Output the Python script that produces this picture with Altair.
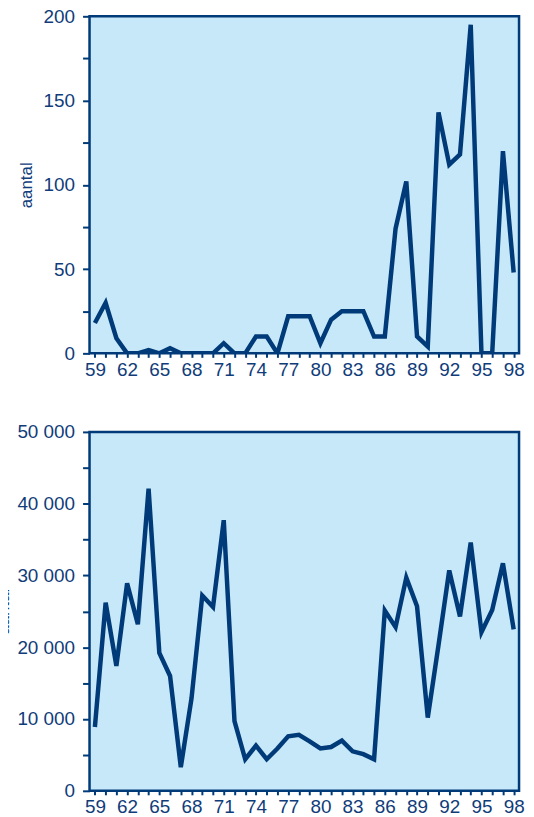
import altair as alt
import pandas as pd

# Years (two-digit labels, 1959-1998)
years = list(range(59, 99))

# Top panel: aantal
top_values = [18, 30, 9, 0, 0, 2, 0, 3, 0, 0,
              0, 0, 6, 0, 0, 10, 10, 0, 22, 22,
              22, 6, 20, 25, 25, 25, 10, 10, 74, 102,
              10, 4, 143, 112, 118, 195, 0, 0, 120, 48]

# Bottom panel: aantal
bottom_values = [8900, 26200, 17400, 28900, 23200, 42100, 19200, 16000, 3300, 12900,
                 27200, 25600, 37700, 9700, 4400, 6300, 4400, 5900, 7600, 7800,
                 6900, 5900, 6100, 7000, 5500, 5100, 4400, 25100, 22800, 29700,
                 25700, 10200, 20300, 30700, 24300, 34600, 22100, 25200, 31700, 22500]

top_ticks = list(range(0, 201, 25))
bottom_ticks = list(range(0, 50001, 5000))

NAVY = "#003a78"
TEXT = "#103c7a"
BG = "#c6e8f8"
FONT = "Liberation Sans"

df_top = pd.DataFrame({"jaar": years, "aantal": top_values})
df_bot = pd.DataFrame({"jaar": years, "aantal": bottom_values})

x_enc = alt.X(
    "jaar:Q",
    scale=alt.Scale(domain=[58.5, 98.5], nice=False, zero=False),
    axis=alt.Axis(
        values=years,
        labelExpr="(datum.value - 59) % 3 == 0 ? datum.label : ''",
        title=None,
        tickSize=4,
        labelPadding=3,
        labelFlush=False,
        labelOverlap=False,
        grid=False,
    ),
)

top = alt.Chart(df_top).mark_line(color=NAVY, strokeWidth=4.5, clip=True).encode(
    x=x_enc,
    y=alt.Y(
        "aantal:Q",
        scale=alt.Scale(domain=[0, 200], nice=False),
        axis=alt.Axis(
            values=top_ticks,
            labelExpr="datum.value % 50 == 0 ? datum.label : ''",
            title="aantal",
            tickSize=7,
            labelPadding=8,
            titlePadding=8,
            grid=False,
        ),
    ),
).properties(width=432, height=339)

bottom = alt.Chart(df_bot).mark_line(color=NAVY, strokeWidth=4.5, clip=True).encode(
    x=x_enc,
    y=alt.Y(
        "aantal:Q",
        scale=alt.Scale(domain=[0, 50000], nice=False),
        axis=alt.Axis(
            values=bottom_ticks,
            labelExpr="datum.value % 10000 == 0 ? replace(format(datum.value, ','), ',', ' ') : ''",
            title="aantal",
            tickSize=7,
            labelPadding=8,
            titlePadding=4,
            grid=False,
        ),
    ),
).properties(width=432, height=361)

chart = alt.vconcat(top, bottom, spacing=40).properties(
    padding={"left": -15, "top": -5, "right": 0, "bottom": 0}
).configure_view(
    stroke=NAVY, strokeWidth=2.5, fill=BG
).configure_axis(
    domain=False,
    tickColor=NAVY,
    tickWidth=2,
    labelColor=TEXT,
    labelFont=FONT,
    labelFontSize=19,
    titleColor=TEXT,
    titleFont=FONT,
    titleFontSize=17,
    titleFontWeight="normal",
)

chart.save("out.html", embed_options={"renderer": "svg", "actions": False})
